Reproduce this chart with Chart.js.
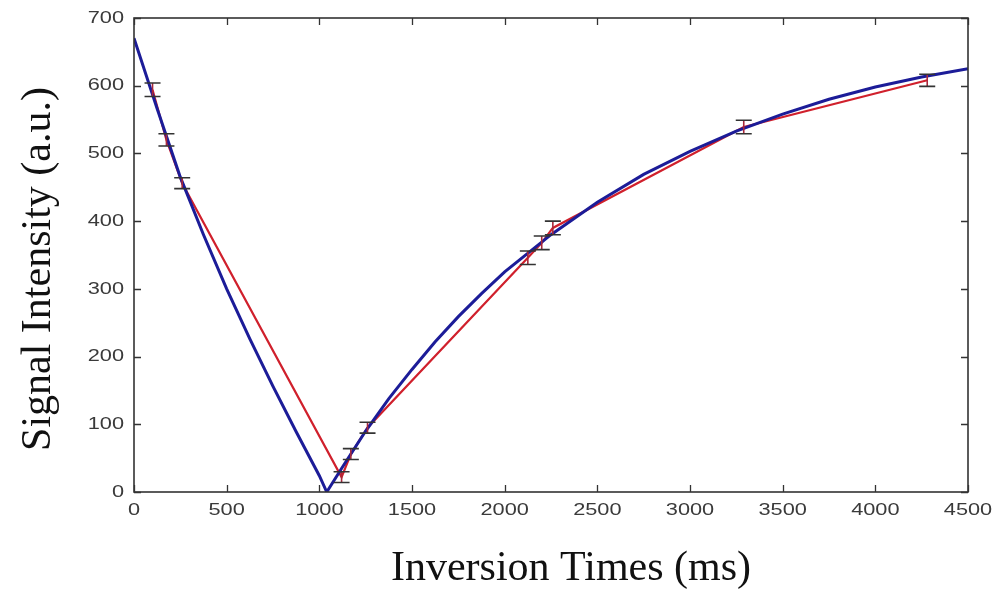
<!DOCTYPE html>
<html>
<head>
<meta charset="utf-8">
<script src="https://cdn.jsdelivr.net/npm/chart.js@4/dist/chart.umd.min.js"></script>
<style>
  html, body { margin: 0; padding: 0; background: #fff; }
  #wrap { width: 1006px; height: 592px; }
</style>
</head>
<body>
<div id="wrap"><canvas id="canvas" width="1006" height="592"></canvas></div>
<script>
// measured points (red line with error bars)
let inversionTimes = [100, 175, 260, 1120, 1170, 1260, 2125, 2200, 2260, 3290, 4280];
let signal = [594, 520, 456, 22, 56, 95, 346, 368, 390, 539, 608];
let signalError = [10, 9, 8, 8, 8, 8, 10, 10, 10, 10, 9];

// fitted recovery curve (blue line)
let fitTimes = [0, 125, 250, 375, 500, 625, 750, 875, 1000, 1040, 1125, 1250, 1375, 1500, 1625, 1750, 1875,
                2000, 2250, 2500, 2750, 3000, 3250, 3500, 3750, 4000, 4250, 4500];
let fitSignal = [670, 566, 465, 380, 300, 226, 156, 89, 24, 0, 37, 90, 138, 181, 222, 259, 293,
                 325, 380, 428, 469, 503, 533, 558, 580, 598, 613, 625];

// tick labels and titles
let xTicks = [0, 500, 1000, 1500, 2000, 2500, 3000, 3500, 4000, 4500];
let yTicks = [0, 100, 200, 300, 400, 500, 600, 700];
let xTitle = 'Inversion Times (ms)';
let yTitle = 'Signal Intensity (a.u.)';

let measured = inversionTimes.map((t, i) => ({x: t, y: signal[i]}));
let fitted = fitTimes.map((t, i) => ({x: t, y: fitSignal[i]}));

// box with inward ticks (matlab look), error bars, stretched tick labels and titles
let boxPlugin = {
  id: 'box',
  afterDatasetsDraw(chart) {
    let ctx = chart.ctx;
    let xs = chart.scales.x, ys = chart.scales.y;
    ctx.save();
    ctx.lineWidth = 1.6;
    for (let i = 0; i < inversionTimes.length; i++) {
      let px = xs.getPixelForValue(inversionTimes[i]);
      let top = ys.getPixelForValue(signal[i] + signalError[i]);
      let bot = ys.getPixelForValue(signal[i] - signalError[i]);
      ctx.strokeStyle = '#a8283a';
      ctx.beginPath();
      ctx.moveTo(px, top); ctx.lineTo(px, bot);
      ctx.stroke();
      ctx.strokeStyle = '#333';
      ctx.beginPath();
      ctx.moveTo(px - 8, top); ctx.lineTo(px + 8, top);
      ctx.moveTo(px - 8, bot); ctx.lineTo(px + 8, bot);
      ctx.stroke();
    }
    ctx.restore();
  },
  afterDraw(chart) {
    let ctx = chart.ctx;
    let xs = chart.scales.x, ys = chart.scales.y;
    let a = chart.chartArea;
    ctx.save();
    ctx.strokeStyle = '#333';
    ctx.lineWidth = 1.6;
    ctx.strokeRect(a.left, a.top, a.right - a.left, a.bottom - a.top);
    ctx.lineWidth = 1.3;
    ctx.beginPath();
    xTicks.forEach(v => {
      let px = Math.round(xs.getPixelForValue(v)) + 0.5;
      ctx.moveTo(px, a.bottom); ctx.lineTo(px, a.bottom - 7);
      ctx.moveTo(px, a.top); ctx.lineTo(px, a.top + 7);
    });
    yTicks.forEach(v => {
      let py = Math.round(ys.getPixelForValue(v)) + 0.5;
      ctx.moveTo(a.left, py); ctx.lineTo(a.left + 7, py);
      ctx.moveTo(a.right, py); ctx.lineTo(a.right - 7, py);
    });
    ctx.stroke();

    // tick labels: the source font is wide and short, so stretch it sideways
    let sx = 1.28;
    ctx.fillStyle = '#3a3a3a';
    ctx.font = '17px "Liberation Sans"';
    ctx.textBaseline = 'middle';
    ctx.textAlign = 'center';
    xTicks.forEach(v => {
      let px = xs.getPixelForValue(v);
      ctx.save();
      ctx.translate(px, a.bottom + 18);
      ctx.scale(sx, 1);
      ctx.fillText(String(v), 0, 0);
      ctx.restore();
    });
    ctx.textAlign = 'right';
    yTicks.forEach(v => {
      let py = ys.getPixelForValue(v);
      ctx.save();
      ctx.translate(a.left - 10, py);
      ctx.scale(sx, 1);
      ctx.fillText(String(v), 0, 0);
      ctx.restore();
    });

    // axis titles
    ctx.fillStyle = '#111';
    ctx.font = '42px "Liberation Serif"';
    ctx.textAlign = 'center';
    ctx.textBaseline = 'alphabetic';
    ctx.fillText(xTitle, 571, 580);
    ctx.save();
    ctx.translate(50, 269);
    ctx.rotate(-Math.PI / 2);
    ctx.fillText(yTitle, 0, 0);
    ctx.restore();
    ctx.restore();
  }
};

let options = {
  type: 'scatter',
  data: {
    datasets: [
      {
        label: 'measured',
        data: measured,
        showLine: true,
        borderColor: '#d0202c',
        borderWidth: 2.2,
        pointRadius: 0,
        fill: false,
        order: 2
      },
      {
        label: 'fit',
        data: fitted,
        showLine: true,
        borderColor: '#1c1c98',
        borderWidth: 3,
        pointRadius: 0,
        fill: false,
        order: 1
      }
    ]
  },
  options: {
    responsive: false,
    animation: false,
    events: [],
    layout: { padding: { top: 18, right: 38, bottom: 0, left: 0 } },
    plugins: { legend: { display: false }, tooltip: { enabled: false } },
    scales: {
      x: {
        type: 'linear',
        min: 0, max: 4500,
        afterBuildTicks: s => { s.ticks = xTicks.map(v => ({value: v})); },
        afterFit: s => { s.height = 100; },
        grid: { display: false, drawTicks: false },
        border: { display: false },
        ticks: { display: false }
      },
      y: {
        min: 0, max: 700,
        afterBuildTicks: s => { s.ticks = yTicks.map(v => ({value: v})); },
        afterFit: s => { s.width = 134; },
        grid: { display: false, drawTicks: false },
        border: { display: false },
        ticks: { display: false }
      }
    }
  },
  plugins: [boxPlugin]
};

let chart = new Chart(document.getElementById('canvas'), options);
</script>
</body>
</html>
